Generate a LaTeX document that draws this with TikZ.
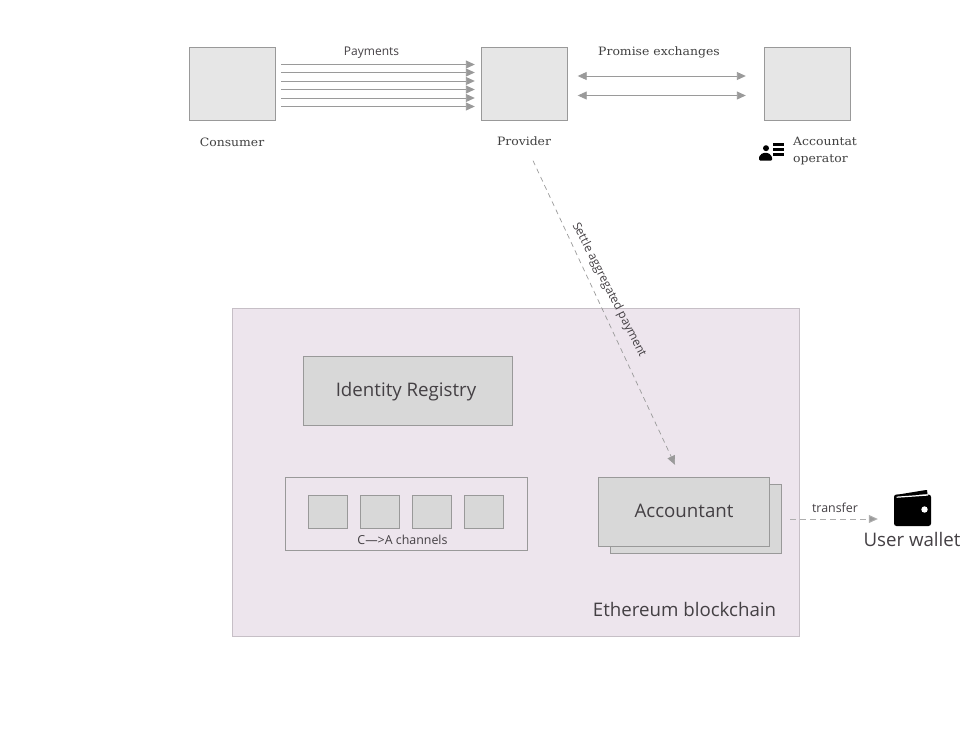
\documentclass[tikz,border=0pt]{standalone}
\usepackage{fontspec}
\setmainfont{Open Sans}
\newfontfamily\slabfont[FakeStretch=1.08]{DejaVu Serif}
\usetikzlibrary{arrows.meta}
\definecolor{chainfill}{HTML}{EDE5ED}
\definecolor{chainedge}{HTML}{C6BFC6}
\definecolor{boxfill}{HTML}{D8D8D8}
\definecolor{lightfill}{HTML}{E6E6E6}
\definecolor{edgegrey}{HTML}{999999}
\definecolor{linegrey}{HTML}{9A9A9A}
\definecolor{textgrey}{HTML}{444044}
\tikzset{
	party/.style={draw=edgegrey,fill=lightfill,minimum width=86pt,minimum height=73pt,inner sep=0pt},
	block/.style={draw=edgegrey,fill=boxfill,inner sep=0pt,text=textgrey},
	slot/.style={block,minimum width=39pt,minimum height=33pt},
	slab/.style={font=\slabfont\fontsize{11.5}{17}\selectfont,text=black!75,inner sep=0pt,align=left},
	tag/.style={font=\fontsize{12.4}{14}\selectfont,text=textgrey,inner sep=0pt},
	big/.style={font=\fontsize{18.7}{22}\selectfont,text=textgrey,inner sep=0pt},
	flow/.style={draw=linegrey,line width=0.9pt,-{Triangle[length=9pt,width=8pt,fill=linegrey]}},
	swap/.style={draw=linegrey,line width=0.9pt,{Triangle[length=9pt,width=8pt,fill=linegrey]}-{Triangle[length=9pt,width=8pt,fill=linegrey]}},
	dashflow/.style={flow,dash pattern=on 6pt off 4pt}
}
\begin{document}
\begin{tikzpicture}[x=1pt,y=-1pt]
	\useasboundingbox (0,0) rectangle (976,742);

	\node[party] (consumer) at (232,83.5) {};
	\node[party] (provider) at (524,83.5) {};
	\node[party] (accountat) at (807,83.5) {};

	\node[slab] (consumertext) at (232,142) {Consumer};
	\node[slab] (providertext) at (524,141) {Provider};
	\node[slab,anchor=west] (accountattext) at (793,151) {Accountat\\operator};

	\node[tag,font=\fontsize{12}{14}\selectfont] (paymentstext) at (371.5,53) {Payments};
	\node[slab] (promisetext) at (659,52.5) {Promise exchanges};

	% payments
	\foreach \off in {19,11,2.5,-6,-14.5,-23}
		\draw[flow,shorten <=6pt,shorten >=6pt] ([yshift=\off pt]consumer.east) -- ([yshift=\off pt]provider.west);

	% promises
	\foreach \off in {7.5,-12}
		\draw[swap,shorten <=10.5pt,shorten >=18pt] ([yshift=\off pt]provider.east) -- ([yshift=\off pt]accountat.west);

	% blockchain
	\node[draw=chainedge,fill=chainfill,minimum width=567pt,minimum height=327.5pt,inner sep=0pt] (chain) at (516,472.25) {};
	\node[big] (chaintext) at (684.5,609) {Ethereum blockchain};

	\node[block,draw=edgegrey,minimum width=209pt,minimum height=69pt] (registry) at (407.5,390.5) {};
	\node[big] (registrytext) at (406,392) {Identity Registry};

	\node[draw=edgegrey,minimum width=242pt,minimum height=73pt,inner sep=0pt] (channels) at (406,513.5) {};
	\foreach \n/\x in {a/327.5,b/379.5,c/431.5,d/483.5}
		\node[slot] (slot\n) at (\x,511.5) {};
	\node[tag] (channelstext) at (402.5,540) {C—>A channels};

	\node[block,minimum width=171pt,minimum height=69pt] (accountantback) at (695.5,518.5) {};
	\node[block,minimum width=171pt,minimum height=69pt] (accountant) at (683.5,511.5) {};
	\node[big] (accountanttext) at (684,510.5) {Accountant};

	% settlement
	\draw[dashflow,line width=0.7pt,dash pattern=on 5pt off 4pt] ([xshift=9pt,yshift=-15pt]providertext.south) -- ([xshift=-8.5pt,yshift=12pt]accountant.north);
	\node[tag,rotate=-63,font=\fontsize{11.9}{14}\selectfont] (settletext) at (609,290) {Settle aggregated payment};

	% wallet
	\node[minimum width=37pt,minimum height=36pt,inner sep=0pt] (wallet) at (912.5,508) {};
	\fill[black] (895.5,495) -- (924,490.3) to[out=0,in=180] (927,490) -- (927.5,494) -- (898,496.5) -- cycle;
	\fill[black,rounded corners=2.5pt] (894,494.5) rectangle (931,526);
	\fill[white] (896.5,496.6) -- (928,494.4) -- (928,495.6) -- (896.5,497.8) -- cycle;
	\fill[white] (924.5,509.5) circle (3.2pt);
	\node[big] (wallettext) at (912,539.5) {User wallet};
	\draw[dashflow,line width=1pt,dash pattern=on 6pt off 4pt,draw=linegrey!80,shorten <=9pt,shorten >=16pt] ([yshift=-0.5pt]accountantback.east) -- ([yshift=-0.5pt]wallet.west |- accountantback.east);
	\node[tag] (transfertext) at (835,507.5) {transfer};

	% operator icon
	\fill[black] (766,148.2) circle (3pt);
	\fill[black,rounded corners=1pt] (759,160.5) -- (759,157) to[out=60,in=180] (765.5,152.8) to[out=0,in=120] (772,157) -- (772,160.5) -- cycle;
	\foreach \liney in {143,148,153}
		\fill[black] (773,\liney) rectangle (784,\liney+2.6);
\end{tikzpicture}
\end{document}
